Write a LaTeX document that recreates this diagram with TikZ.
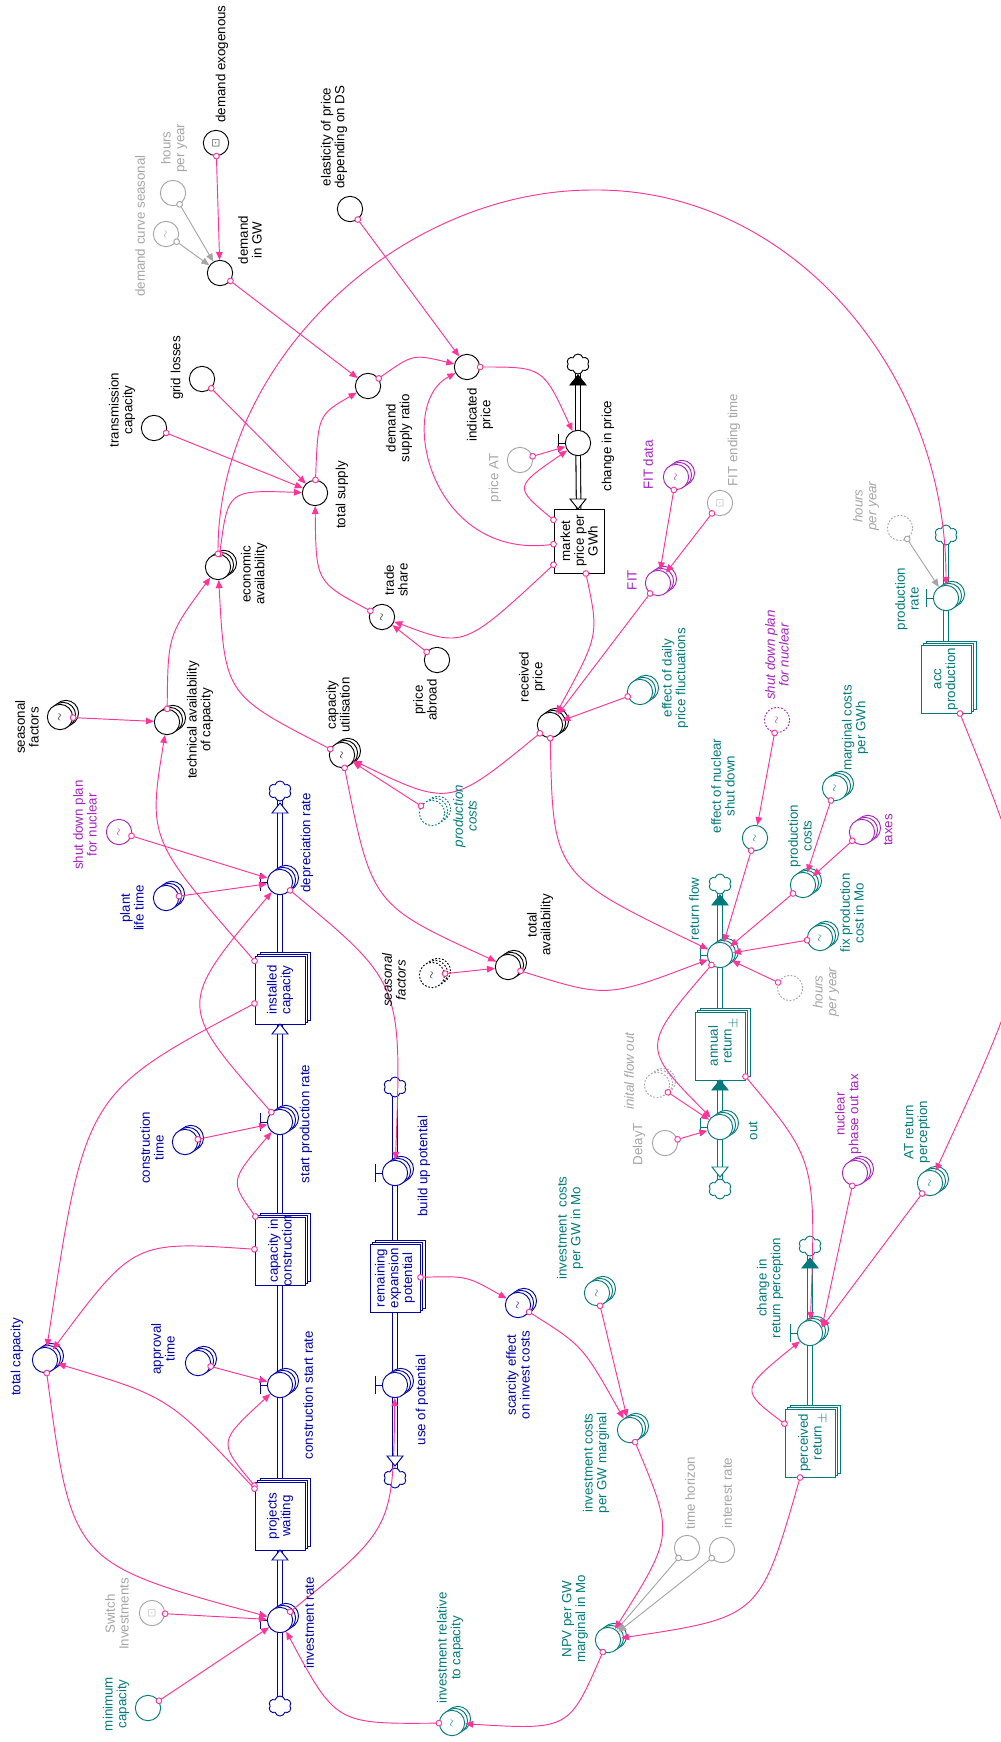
\documentclass[tikz,border=0pt]{standalone}
\usepackage{amssymb}
\usepackage{fontspec}
\setmainfont{Liberation Sans}
\usetikzlibrary{arrows.meta,shapes.symbols,shadows,backgrounds}

\definecolor{pnk}{RGB}{255,51,153}
\definecolor{blu}{RGB}{0,0,170}
\definecolor{tea}{RGB}{0,122,122}
\definecolor{pur}{RGB}{165,35,190}
\definecolor{gry}{RGB}{165,165,165}

\newcommand{\lbfont}{\fontsize{10}{10.3}\selectfont}
\newcommand{\sq}{\rotatebox{90}{$\scriptstyle\sim$}}
\newcommand{\icn}{\rotatebox{90}{$\scriptstyle\boxdot$}}
\newcommand{\vbar}[2]{\draw[#2, line width=0.75pt] (#1.west) -- ++(-6,0) ++(0,-9) -- ++(0,18);}
\newcommand{\tipup}[3]{\filldraw[draw=#2, fill=#3, line width=0.7pt] (#1) ++(-8,0) -- ++(16,0) -- ++(-8,-10) -- cycle;}
\newcommand{\tipdn}[3]{\filldraw[draw=#2, fill=#3, line width=0.7pt] (#1) ++(-8,0) -- ++(16,0) -- ++(-8,10) -- cycle;}
\newcommand{\tee}[2]{\draw[#2, line width=0.75pt] (#1) ++(-8,0) -- ++(16,0);}

\tikzset{
  var/.style={circle, draw=#1, fill=white, line width=0.7pt, minimum size=19pt, inner sep=0pt, text=#1},
  var/.default=black,
  stk/.style={double copy shadow={shadow xshift=2.2pt, shadow yshift=1.5pt, draw=#1, fill=white, line width=0.7pt}},
  stk/.default=black,
  stkd/.style={double copy shadow={shadow xshift=2.2pt, shadow yshift=1.5pt, draw=#1, fill=white, line width=0.7pt, dash pattern=on 1.3pt off 1.3pt}},
  stkd/.default=black,
  dsh/.style={dash pattern=on 1.3pt off 1.3pt},
  stock/.style={rectangle, draw=#1, fill=white, line width=0.75pt, minimum width=37.5pt, minimum height=51pt, inner sep=0pt},
  stock/.default=black,
  lbl/.style={rotate=90, align=center, inner sep=0pt, text=#1, font=\lbfont},
  lbl/.default=black,
  ilbl/.style={lbl=#1, font=\lbfont\itshape},
  ilbl/.default=black,
  pipe/.style={draw=#1, double=white, double distance=2.6pt, line width=0.8pt},
  pipe/.default=black,
  cld/.style={cloud, cloud puffs=6, aspect=1.1, draw=#1, fill=white, line width=0.7pt, minimum width=17pt, minimum height=15pt, inner sep=0pt},
  cld/.default=black,
  lnk/.style={draw=pnk, line width=0.7pt, arrows={Circle[length=5pt,width=5pt,fill=white]-Triangle[length=6pt,width=5pt]}, shorten <=-2.5pt},
  glnk/.style={lnk, draw=gry},
}

\begin{document}
\begin{tikzpicture}[x=0.75pt,y=-0.75pt]
  \useasboundingbox (0,0) rectangle (1000,1742);

  % market side
  \node[var] (dexo) at (216,143) {\icn};
  \node[var] (dgw) at (220,273) {};
  \node[var] (elast) at (350,209) {};
  \node[var] (dsr) at (368,386) {};
  \node[var] (indp) at (467,367) {};
  \node[var] (grid) at (202,379) {};
  \node[var] (trans) at (154,428) {};
  \node[var] (tsup) at (315,493) {};
  \node[var, stk] (econ) at (218,567) {};
  \node[var] (trade) at (382,617) {\sq};
  \node[var] (pabr) at (437,660) {};
  \node[var, stk] (seas) at (60,717) {\sq};
  \node[var, stk] (tech) at (167,722) {};
  \node[var, stk] (caput) at (342,755) {\sq};
  \node[var, stk] (recp) at (550,725) {};
  \node[var, stk] (totav) at (508,967) {};
  \node[var, dsh, stkd] (seas2) at (432,975) {\sq};
  \node[var] (chp) at (578,443) {};
  \node[stock, minimum height=48pt] (mkt) at (579,541) {};
  \node[cld] (c-chp) at (578,364) {};

  \node[var=gry] (hpy1) at (173,193) {};
  \node[var=gry] (dcs) at (166,234) {\sq};
  \node[var=gry] (pat) at (520,460) {};
  \node[var=gry] (fitend) at (720,503) {\icn};
  \node[var=gry, dsh] (hpy2) at (900,528) {};
  \node[var=gry, dsh] (hpy3) at (790,988) {};
  \node[var=gry, dsh, stkd=gry] (initfo) at (657,1085) {};
  \node[var=gry] (delayt) at (665,1143) {};
  \node[var=gry] (thor) at (687,1548) {};
  \node[var=gry] (intr) at (722,1550) {};
  \node[var=gry] (swi) at (152,1613) {\icn};

  \node[var=pur, stk=pur] (fitd) at (676,477) {\sq};
  \node[var=pur, stk=pur] (fit) at (658,583) {};
  \node[var=pur] (sdp1) at (119,832) {\sq};
  \node[var=pur, dsh] (sdp2) at (777,720) {\sq};
  \node[var=pur, stk=pur] (taxes) at (862,832) {};
  \node[var=pur, stk=pur] (npot) at (855,1173) {};

  % return side
  \node[var=tea, stk=tea] (edpf) at (640,692) {};
  \node[var=tea] (enuc) at (755,838) {\sq};
  \node[var=tea, stk=tea] (mcg) at (835,788) {\sq};
  \node[var=tea, stk=tea] (pc) at (803,885) {};
  \node[var=tea, stk=tea] (fpc) at (820,938) {\sq};
  \node[var=tea, dsh, stkd=tea] (pc2) at (432,813) {};
  \node[var=tea, stk=tea] (prate) at (946,598) {};
  \node[stock=tea, stk=tea] (accp) at (946,679) {};
  \node[cld=tea] (c-prate) at (946,535) {};
  \node[var=tea, stk=tea] (rflow) at (720,955) {};
  \node[stock=tea, stk=tea] (annr) at (720,1046) {};
  \node[var=tea, stk=tea] (out) at (720,1127) {};
  \node[cld=tea] (c-rflow) at (720,884) {};
  \node[cld=tea] (c-out) at (720,1189) {};
  \node[var=tea, stk=tea] (atrp) at (930,1183) {\sq};
  \node[var=tea, stk=tea] (crp) at (810,1333) {};
  \node[stock=tea, stk=tea] (perr) at (810,1443) {};
  \node[cld=tea] (c-crp) at (810,1246) {};
  \node[var=tea, stk=tea] (icgm) at (597,1293) {\sq};
  \node[var=tea, stk=tea] (icm) at (630,1430) {};
  \node[var=tea, stk=tea] (npv) at (608,1640) {};
  \node[var=tea, stk=tea] (irc) at (452,1723) {\sq};
  \node[var=tea] (minc) at (148,1708) {};

  % capacity side
  \node[var=blu, stk=blu] (depr) at (280,882) {};
  \node[cld=blu] (c-depr) at (280,791) {};
  \node[var=blu, stk=blu] (plt) at (166,898) {};
  \node[stock=blu, stk=blu] (inst) at (280,990) {};
  \node[var=blu, stk=blu] (spr) at (280,1122) {};
  \node[var=blu, stk=blu] (ctime) at (185,1142) {};
  \node[stock=blu, stk=blu] (cic) at (280,1251) {};
  \node[var=blu, stk=blu] (csr) at (280,1385) {};
  \node[var=blu, stk=blu] (appt) at (198,1363) {};
  \node[var=blu, stk=blu] (tcap) at (45,1360) {};
  \node[stock=blu, stk=blu] (pw) at (280,1516) {};
  \node[var=blu, stk=blu] (ir) at (280,1620) {};
  \node[cld=blu] (c-ir) at (280,1706) {};
  \node[cld=blu] (c-bup) at (395,1087) {};
  \node[var=blu, stk=blu] (bup) at (395,1173) {};
  \node[stock=blu, stk=blu] (rep) at (395,1278) {};
  \node[var=blu, stk=blu] (uop) at (395,1385) {};
  \node[cld=blu] (c-uop) at (395,1478) {};
  \node[var=blu, stk=blu] (scar) at (518,1305) {\sq};

  \begin{scope}[on background layer]
    \draw[pipe] (chp.center) -- (c-chp.center);
    \draw[pipe] (chp.center) -- (mkt.center);
    \draw[pipe=blu] (c-depr.center) -- (depr.center);
    \draw[pipe=blu] (depr.center) -- (inst.center);
    \draw[pipe=blu] (spr.center) -- (inst.center);
    \draw[pipe=blu] (cic.center) -- (spr.center);
    \draw[pipe=blu] (csr.center) -- (cic.center);
    \draw[pipe=blu] (pw.center) -- (csr.center);
    \draw[pipe=blu] (ir.center) -- (pw.center);
    \draw[pipe=blu] (c-ir.center) -- (ir.center);
    \draw[pipe=blu] (c-bup.center) -- (bup.center);
    \draw[pipe=blu] (bup.center) -- (rep.center);
    \draw[pipe=blu] (rep.center) -- (uop.center);
    \draw[pipe=blu] (uop.center) -- (c-uop.center);
    \draw[pipe=tea] (c-prate.center) -- (prate.center);
    \draw[pipe=tea] (prate.center) -- (accp.center);
    \draw[pipe=tea] (annr.center) -- (rflow.center);
    \draw[pipe=tea] (rflow.center) -- (c-rflow.center);
    \draw[pipe=tea] (out.center) -- (annr.center);
    \draw[pipe=tea] (out.center) -- (c-out.center);
    \draw[pipe=tea] (c-crp.center) -- (crp.center);
    \draw[pipe=tea] (crp.center) -- (perr.center);
  \end{scope}

  \vbar{chp}{black}
  \vbar{depr}{blu}
  \vbar{spr}{blu}
  \vbar{csr}{blu}
  \vbar{ir}{blu}
  \vbar{bup}{blu}
  \vbar{uop}{blu}
  \vbar{prate}{tea}
  \vbar{rflow}{tea}
  \vbar{out}{tea}
  \vbar{crp}{tea}

  \draw[lnk] (dexo) -- (dgw);
  \draw[glnk] (hpy1) -- (dgw);
  \draw[glnk] (dcs) -- (dgw);
  \draw[lnk] (dgw) -- (dsr);
  \draw[lnk] (elast) -- (indp);
  \draw[lnk] (dsr) .. controls (413,354) .. (indp);
  \draw[lnk] (tsup) .. controls (318,415) .. (dsr);
  \draw[lnk] (grid) -- (tsup);
  \draw[lnk] (trans) -- (tsup);
  \draw[lnk] (econ) .. controls (228,490) .. (tsup);
  \draw[lnk] (econ) .. controls (218,360) and (400,190) .. (593,190) .. controls (790,188) and (946,370) .. (prate);
  \draw[lnk] (tech) .. controls (168,635) .. (econ);
  \draw[lnk] (caput) .. controls (225,695) .. (econ);
  \draw[lnk] (seas) -- (tech);
  \draw[lnk] (inst) .. controls (148,839) .. (tech);
  \draw[lnk] (trade) .. controls (316,582) .. (tsup);
  \draw[lnk] (pabr) -- (trade);
  \draw[lnk] (mkt) .. controls (464,648) .. (trade);
  \draw[lnk] (indp) .. controls (543,367) .. (chp);
  \draw[lnk] (pat) -- (chp);
  \draw[lnk] (mkt) .. controls (514,487) .. (chp);
  \draw[lnk] (mkt) .. controls (430,560) and (395,405) .. (indp);
  \draw[lnk] (mkt) .. controls (599,635) .. (recp);
  \draw[lnk] (fitd) -- (fit);
  \draw[lnk] (fitend) -- (fit);
  \draw[lnk] (fit) -- (recp);
  \draw[lnk] (edpf) -- (recp);
  \draw[lnk] (recp) .. controls (450,807) .. (caput);
  \draw[lnk] (pc2) -- (caput);
  \draw[lnk] (caput) .. controls (372,905) .. (totav);
  \draw[lnk] (recp) .. controls (553,875) .. (rflow);
  \draw[lnk] (seas2) -- (totav);
  \draw[lnk] (totav) .. controls (607,998) .. (rflow);
  \draw[lnk] (sdp2) -- (enuc);
  \draw[lnk] (enuc) -- (rflow);
  \draw[lnk] (mcg) -- (pc);
  \draw[lnk] (taxes) -- (pc);
  \draw[lnk] (pc) -- (rflow);
  \draw[lnk] (fpc) -- (rflow);
  \draw[lnk] (hpy3) -- (rflow);
  \draw[glnk] (hpy2) -- (prate);
  \draw[lnk] (rflow) .. controls (641,1047) .. (out);
  \draw[lnk] (initfo) -- (out);
  \draw[lnk] (delayt) -- (out);
  \draw[lnk] (annr) .. controls (816,1161) .. (crp);
  \draw[lnk] (npot) -- (crp.25);
  \draw[lnk] (atrp) -- (crp.25);
  \draw[lnk] (accp) .. controls (1047,929) .. (atrp);
  \draw[lnk] (perr) .. controls (740,1390) .. (crp);
  \draw[lnk] (perr) .. controls (760,1617) .. (npv);
  \draw[glnk] (thor) -- (npv);
  \draw[glnk] (intr) -- (npv);
  \draw[lnk] (icm) .. controls (674,1535) .. (npv);
  \draw[lnk] (scar) .. controls (583,1346) .. (icm);
  \draw[lnk] (icgm) -- (icm);
  \draw[lnk] (rep) .. controls (467,1276) .. (scar);
  \draw[lnk] (npv) .. controls (569,1730) .. (irc);
  \draw[lnk] (irc) .. controls (336,1724) .. (ir);
  \draw[lnk] (ir) .. controls (393,1528) .. (uop);
  \draw[lnk] (tcap) .. controls (72,1563) .. (ir);
  \draw[lnk] (swi) -- (ir);
  \draw[lnk] (minc) -- (ir);
  \draw[lnk] (pw) .. controls (218,1442) .. (csr);
  \draw[lnk] (pw) .. controls (169,1397) .. (tcap);
  \draw[lnk] (appt) -- (csr);
  \draw[lnk] (cic) .. controls (134,1241) .. (tcap);
  \draw[lnk] (inst) .. controls (85,1093) .. (tcap);
  \draw[lnk] (spr) .. controls (177,1005) .. (depr);
  \draw[lnk] (cic) .. controls (230,1181) .. (spr);
  \draw[lnk] (ctime) -- (spr);
  \draw[lnk] (plt) -- (depr);
  \draw[lnk] (sdp1) -- (depr);
  \draw[lnk] (depr) .. controls (402,983) .. (bup);

  \tipup{578,385}{black}{black}
  \tipdn{578,499}{black}{white}
  \tipup{280,813}{blu}{white}
  \tipup{280,1034}{blu}{white}
  \tipup{280,1560}{blu}{white}
  \tipdn{395,1456}{blu}{white}
  \tipup{720,905}{tea}{tea}
  \tipup{720,1090}{tea}{tea}
  \tipdn{720,1167}{tea}{white}
  \tipup{810,1268}{tea}{tea}
  \tee{395,1240}{blu}
  \tee{946,641}{tea}
  \tee{810,1405}{tea}
  \tee{720,1008}{tea}

  % labels
  \node[lbl] (dexo-l) at (222,64) {demand exogenous};
  \node[lbl] (dgw-l) at (250,240) {demand\\in GW};
  \node[lbl] (elast-l) at (334,137) {elasticity of price\\depending on DS};
  \node[lbl] (dsr-l) at (399,428) {demand\\supply ratio};
  \node[lbl] (indp-l) at (480,415) {indicated\\price};
  \node[lbl] (grid-l) at (177,368) {grid losses};
  \node[lbl] (trans-l) at (122,410) {transmission\\capacity};
  \node[lbl] (tsup-l) at (342,495) {total supply};
  \node[lbl] (econ-l) at (254,574) {economic\\availability};
  \node[lbl] (trade-l) at (396,580) {trade\\share};
  \node[lbl] (pabr-l) at (425,700) {price\\abroad};
  \node[lbl] (seas-l) at (27,727) {seasonal\\factors};
  \node[lbl] (tech-l) at (200,720) {technical availability\\of capacity};
  \node[lbl] (caput-l) at (338,705) {capacity\\utilisation};
  \node[lbl] (recp-l) at (532,677) {received\\price};
  \node[lbl] (totav-l) at (540,925) {total\\availability};
  \node[ilbl] (seas2-l) at (394,980) {seasonal\\factors};
  \node[lbl] (chp-l) at (608,446) {change in price};
  \node[lbl] (mkt-t) at (mkt) {market\\price per\\GWh};

  \node[lbl=gry] (hpy1-l) at (174,148) {hours\\per year};
  \node[lbl=gry] (dcs-l) at (140,226) {demand curve seasonal};
  \node[lbl=gry] (pat-l) at (495,478) {price AT};
  \node[lbl=gry] (fitend-l) at (734,440) {FIT ending time};
  \node[ilbl=gry] (hpy2-l) at (866,506) {hours\\per year};
  \node[ilbl=gry] (hpy3-l) at (826,992) {hours\\per year};
  \node[ilbl=gry] (initfo-l) at (629,1071) {inital flow out};
  \node[lbl=gry] (delayt-l) at (639,1144) {DelayT};
  \node[lbl=gry] (thor-l) at (690,1493) {time horizon};
  \node[lbl=gry] (intr-l) at (727,1493) {interest rate};
  \node[lbl=gry] (swi-l) at (117,1614) {Switch\\Investments};

  \node[lbl=pur] (fitd-l) at (648,465) {FIT data};
  \node[lbl=pur] (fit-l) at (632,580) {FIT};
  \node[lbl=pur] (sdp1-l) at (85,825) {shut down plan\\for nuclear};
  \node[ilbl=pur] (sdp2-l) at (777,655) {shut down plan\\for nuclear};
  \node[lbl=pur] (taxes-l) at (888,830) {taxes};
  \node[lbl=pur] (npot-l) at (848,1114) {nuclear\\phase out tax};

  \node[lbl=tea] (edpf-l) at (675,678) {effect of daily\\price fluctuations};
  \node[lbl=tea] (enuc-l) at (723,786) {effect of nuclear\\shut down};
  \node[lbl=tea] (mcg-l) at (855,728) {marginal costs\\per GWh};
  \node[lbl=tea] (pc-l) at (800,836) {production\\costs};
  \node[lbl=tea] (fpc-l) at (852,913) {fix production\\cost in Mo};
  \node[ilbl=tea] (pc2-l) at (465,816) {production\\costs};
  \node[lbl=tea] (prate-l) at (907,599) {production\\rate};
  \node[lbl=tea] (accp-t) at (accp) {acc\\production};
  \node[lbl=tea] (rflow-l) at (694,909) {return flow};
  \node[lbl=tea] (annr-t) at (annr) {annual\\return};
  \node[lbl=tea] (annr-s) at (734,1023) {$\pm$};
  \node[lbl=tea] (out-l) at (753,1131) {out};
  \node[lbl=tea] (atrp-l) at (917,1132) {AT return\\perception};
  \node[lbl=tea] (crp-l) at (770,1288) {change in\\return perception};
  \node[lbl=tea] (perr-t) at (perr) {perceived\\return};
  \node[lbl=tea] (perr-s) at (823,1418) {$\pm$};
  \node[lbl=tea] (icgm-l) at (570,1228) {investment\ \ costs\\per GW in Mo};
  \node[lbl=tea] (icm-l) at (596,1463) {investment costs\\per GW marginal};
  \node[lbl=tea] (npv-l) at (575,1619) {NPV per GW\\marginal in Mo};
  \node[lbl=tea] (irc-l) at (450,1648) {investment relative\\to capacity};
  \node[lbl=tea] (minc-l) at (116,1704) {minimum\\capacity};

  \node[lbl=blu] (depr-l) at (307,843) {depreciation rate};
  \node[lbl=blu] (plt-l) at (132,908) {plant\\life time};
  \node[lbl=blu] (inst-t) at (inst) {installed\\capacity};
  \node[lbl=blu] (spr-l) at (306,1124) {start production rate};
  \node[lbl=blu] (ctime-l) at (152,1148) {construction\\time};
  \node[lbl=blu] (cic-t) at (cic) {capacity in\\construction};
  \node[lbl=blu] (csr-l) at (308,1395) {construction start rate};
  \node[lbl=blu] (appt-l) at (163,1349) {approval\\time};
  \node[lbl=blu] (tcap-l) at (17,1357) {total capacity};
  \node[lbl=blu] (pw-t) at (pw) {projects\\waiting};
  \node[lbl=blu] (ir-l) at (309,1623) {investment rate};
  \node[lbl=blu] (bup-l) at (424,1166) {build up potential};
  \node[lbl=blu] (rep-t) at (rep) {remaining\\expansion\\potential};
  \node[lbl=blu] (uop-l) at (422,1400) {use of potential};
  \node[lbl=blu] (scar-l) at (518,1375) {scarcity effect\\on invest costs};
\end{tikzpicture}
\end{document}
